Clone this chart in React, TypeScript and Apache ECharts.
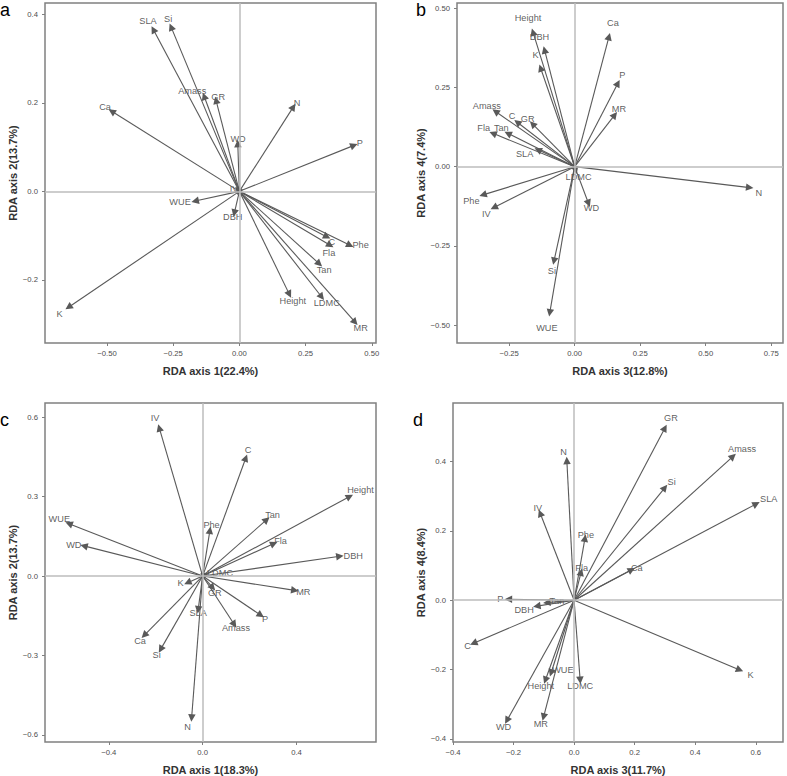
import React, { useEffect, useRef } from "react";
import * as echarts from "echarts";

// ---------- Data ----------
// Panel a: RDA axis 1 vs axis 2
const aNames = ["SLA","Si","Amass","GR","Ca","N","WD","P","IV","WUE","DBH","C","Fla","Phe","Tan","Height","LDMC","MR","K"];
const aX = [-0.325,-0.258,-0.133,-0.088,-0.482,0.204,-0.006,0.433,-0.006,-0.167,-0.019,0.331,0.343,0.418,0.302,0.189,0.311,0.437,-0.645];
const aY = [0.366,0.372,0.215,0.206,0.181,0.191,0.108,0.104,0.004,-0.022,-0.049,-0.103,-0.122,-0.122,-0.164,-0.233,-0.239,-0.296,-0.262];
const aLabelX = [-0.345,-0.269,-0.178,-0.080,-0.507,0.218,-0.005,0.455,-0.020,-0.224,-0.025,0.349,0.338,0.458,0.320,0.202,0.330,0.458,-0.679];
const aLabelY = [0.385,0.389,0.226,0.213,0.190,0.199,0.118,0.109,0.005,-0.025,-0.057,-0.115,-0.140,-0.122,-0.177,-0.247,-0.253,-0.309,-0.277];

// Panel b: RDA axis 3 vs axis 4
const bNames = ["Height","DBH","K","Ca","P","MR","Amass","C","GR","Fla","Tan","SLA","LDMC","N","Phe","IV","WD","Si","WUE"];
const bX = [-0.159,-0.115,-0.130,0.131,0.165,0.153,-0.302,-0.219,-0.161,-0.312,-0.255,-0.140,0.004,0.668,-0.350,-0.308,0.053,-0.079,-0.095];
const bY = [0.424,0.368,0.311,0.410,0.263,0.163,0.174,0.140,0.135,0.105,0.105,0.053,-0.012,-0.066,-0.089,-0.129,-0.116,-0.298,-0.461];
const bLabelX = [-0.178,-0.134,-0.149,0.146,0.182,0.169,-0.335,-0.239,-0.179,-0.347,-0.280,-0.191,0.015,0.703,-0.394,-0.337,0.064,-0.087,-0.106];
const bLabelY = [0.469,0.409,0.353,0.453,0.290,0.182,0.192,0.159,0.150,0.121,0.121,0.040,-0.032,-0.082,-0.108,-0.149,-0.131,-0.329,-0.508];

// Panel c: RDA axis 1 vs axis 2
const cNames = ["IV","C","Height","Tan","Phe","Fla","DBH","WUE","WD","LDMC","MR","K","GR","SLA","P","Amass","Ca","Si","N"];
const cX = [-0.185,0.184,0.627,0.273,0.031,0.304,0.585,-0.570,-0.506,0.012,0.393,-0.064,0.043,-0.019,0.248,0.135,-0.249,-0.179,-0.047];
const cY = [0.560,0.446,0.301,0.213,0.173,0.123,0.075,0.198,0.114,0.006,-0.054,-0.025,-0.044,-0.127,-0.148,-0.183,-0.224,-0.277,-0.536];
const cLabelX = [-0.203,0.194,0.673,0.298,0.038,0.332,0.642,-0.611,-0.549,0.074,0.429,-0.094,0.052,-0.019,0.266,0.142,-0.267,-0.196,-0.064];
const cLabelY = [0.597,0.475,0.324,0.232,0.192,0.131,0.075,0.217,0.119,0.011,-0.060,-0.028,-0.064,-0.139,-0.163,-0.198,-0.245,-0.299,-0.570];

// Panel d: RDA axis 3 vs axis 4
const dNames = ["GR","Amass","N","Si","SLA","IV","Phe","Fla","Ca","P","Tan","DBH","C","WUE","Height","LDMC","MR","WD","K"];
const dX = [0.300,0.525,-0.024,0.300,0.602,-0.112,0.036,0.023,0.190,-0.217,-0.090,-0.123,-0.332,-0.076,-0.095,0.020,-0.101,-0.222,0.547];
const dY = [0.497,0.415,0.403,0.325,0.278,0.251,0.179,0.081,0.088,0.003,-0.007,-0.017,-0.124,-0.210,-0.231,-0.231,-0.337,-0.347,-0.201];
const dLabelX = [0.320,0.555,-0.035,0.322,0.643,-0.120,0.039,0.025,0.207,-0.244,-0.057,-0.165,-0.352,-0.037,-0.110,0.020,-0.110,-0.233,0.583];
const dLabelY = [0.525,0.437,0.427,0.341,0.293,0.267,0.187,0.093,0.094,0.004,-0.003,-0.027,-0.133,-0.200,-0.246,-0.246,-0.356,-0.366,-0.217];

// Tick values
const aXTicks = [-0.5, -0.25, 0, 0.25, 0.5];
const aYTicks = [-0.2, 0, 0.2, 0.4];
const bXTicks = [-0.25, 0, 0.25, 0.5, 0.75];
const bYTicks = [-0.5, -0.25, 0, 0.25, 0.5];
const cXTicks = [-0.4, 0, 0.4];
const cYTicks = [-0.6, -0.3, 0, 0.3, 0.6];
const dXTicks = [-0.4, -0.2, 0, 0.2, 0.4, 0.6];
const dYTicks = [-0.4, -0.2, 0, 0.2, 0.4];

const FONT = '"Liberation Sans", Arial, Helvetica, sans-serif';

type Panel = {
  letter: string;
  names: string[]; x: number[]; y: number[]; lx: number[]; ly: number[];
  xTicks: number[]; yTicks: number[]; xDec: number; yDec: number;
  xName: string; yName: string;
  xRange: [number, number]; yRange: [number, number];
  grid: { left: number; top: number; width: number; height: number };
  letterPos: [number, number];
};

const panels: Panel[] = [
  {
    letter: "a", names: aNames, x: aX, y: aY, lx: aLabelX, ly: aLabelY,
    xTicks: aXTicks, yTicks: aYTicks, xDec: 2, yDec: 1,
    xName: "RDA axis 1(22.4%)", yName: "RDA axis 2(13.7%)",
    xRange: [-0.734, 0.516], yRange: [-0.343, 0.426],
    grid: { left: 45, top: 3, width: 331, height: 340 }, letterPos: [0, 11],
  },
  {
    letter: "b", names: bNames, x: bX, y: bY, lx: bLabelX, ly: bLabelY,
    xTicks: bXTicks, yTicks: bYTicks, xDec: 2, yDec: 2,
    xName: "RDA axis 3(12.8%)", yName: "RDA axis 4(7.4%)",
    xRange: [-0.449, 0.795], yRange: [-0.556, 0.516],
    grid: { left: 457, top: 3, width: 326, height: 340 }, letterPos: [416, 11],
  },
  {
    letter: "c", names: cNames, x: cX, y: cY, lx: cLabelX, ly: cLabelY,
    xTicks: cXTicks, yTicks: cYTicks, xDec: 1, yDec: 1,
    xName: "RDA axis 1(18.3%)", yName: "RDA axis 2(13.7%)",
    xRange: [-0.672, 0.739], yRange: [-0.627, 0.654],
    grid: { left: 45, top: 403, width: 331, height: 339 }, letterPos: [0, 421],
  },
  {
    letter: "d", names: dNames, x: dX, y: dY, lx: dLabelX, ly: dLabelY,
    xTicks: dXTicks, yTicks: dYTicks, xDec: 1, yDec: 1,
    xName: "RDA axis 3(11.7%)", yName: "RDA axis 4(8.4%)",
    xRange: [-0.4, 0.69], yRange: [-0.409, 0.569],
    grid: { left: 453, top: 403, width: 330, height: 339 }, letterPos: [413, 421],
  },
];

const fmt = (dec: number) => (v: number) =>
  (v < -1e-9 ? "\u2212" : "") + Math.abs(v).toFixed(dec);

function buildOption() {
  const grid: any[] = [];
  const xAxis: any[] = [];
  const yAxis: any[] = [];
  const series: any[] = [];
  const graphic: any[] = [];

  panels.forEach((p, i) => {
    grid.push({
      ...p.grid,
      show: true,
      borderColor: "#808080",
      borderWidth: 1.5,
      backgroundColor: "transparent",
      containLabel: false,
    });
    const axisCommon = {
      type: "value",
      gridIndex: i,
      splitLine: { show: false },
      axisLine: { show: false, onZero: false },
      nameLocation: "middle",
      nameTextStyle: { fontFamily: FONT, fontWeight: "bold", fontSize: 11, color: "#333" },
    };
    xAxis.push({
      ...axisCommon,
      min: p.xRange[0], max: p.xRange[1],
      name: p.xName, nameGap: 22,
      axisTick: { show: true, length: 3, customValues: p.xTicks, lineStyle: { color: "#808080", width: 1 } },
      axisLabel: { customValues: p.xTicks, formatter: fmt(p.xDec), fontFamily: FONT, fontSize: 7.7, color: "#4d4d4d", margin: 6 },
    });
    yAxis.push({
      ...axisCommon,
      min: p.yRange[0], max: p.yRange[1],
      name: p.yName, nameGap: 27,
      axisTick: { show: true, length: 3, customValues: p.yTicks, lineStyle: { color: "#808080", width: 1 } },
      axisLabel: { customValues: p.yTicks, formatter: fmt(p.yDec), fontFamily: FONT, fontSize: 7.7, color: "#4d4d4d", margin: 7 },
    });

    // zero lines + labels
    series.push({
      type: "scatter",
      xAxisIndex: i, yAxisIndex: i,
      z: 2,
      symbolSize: 1,
      itemStyle: { color: "rgba(0,0,0,0)" },
      data: p.names.map((n, k) => [p.lx[k], p.ly[k], n]),
      label: {
        show: true, position: "inside",
        formatter: (q: any) => q.value[2],
        fontFamily: FONT, fontSize: 9.2, color: "#333333",
        textBorderWidth: 0, textBorderColor: "transparent",
      },
      silent: true,
      markLine: {
        silent: true, symbol: "none", animation: false,
        label: { show: false },
        lineStyle: { color: "#bdbdbd", width: 1.5, type: "solid" },
        data: [{ xAxis: 0 }, { yAxis: 0 }],
      },
    });
    // arrows
    series.push({
      type: "lines",
      coordinateSystem: "cartesian2d",
      xAxisIndex: i, yAxisIndex: i,
      z: 3,
      symbol: ["none", "triangle"],
      symbolSize: 7.5,
      lineStyle: { color: "#595959", width: 1.1, opacity: 1 },
      itemStyle: { color: "#595959" },
      silent: true,
      data: p.names.map((n, k) => ({ name: n, coords: [[0, 0], [p.x[k], p.y[k]]] })),
    });

    graphic.push({
      type: "text",
      left: p.letterPos[0], top: p.letterPos[1] - 10,
      style: { text: p.letter, font: `18px ${FONT}`, fill: "#000" },
    });
  });

  return { animation: false, grid, xAxis, yAxis, series, graphic };
}

export default function App() {
  const ref = useRef<HTMLDivElement>(null);
  useEffect(() => {
    if (!ref.current) return;
    const chart = echarts.init(ref.current, undefined, { renderer: "svg" });
    chart.setOption(buildOption() as any);
    return () => chart.dispose();
  }, []);
  return (
    <div
      ref={ref}
      style={{ position: "absolute", left: 0, top: 0, width: 787, height: 776, background: "#fff" }}
    />
  );
}
